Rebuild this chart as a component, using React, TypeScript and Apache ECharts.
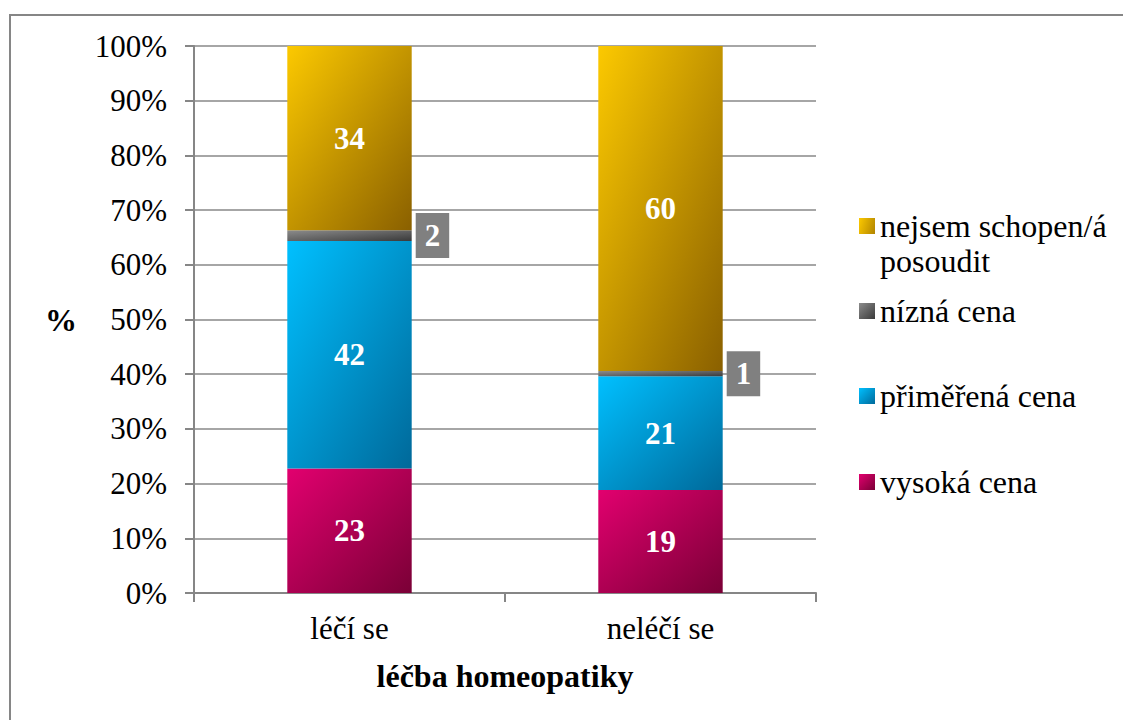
import React, { useEffect, useRef } from "react";
import * as echarts from "echarts";

const categories = ["léčí se", "neléčí se"];
const seriesNames = ["vysoká cena", "přiměřená cena", "nízná cena", "nejsem schopen/á posoudit"];
const vysokaCena = [23, 19];
const primerenaCena = [42, 21];
const niznaCena = [2, 1];
const nejsemSchopen = [34, 60];
const seriesValues = [vysokaCena, primerenaCena, niznaCena, nejsemSchopen];
const xAxisTitle = "léčba homeopatiky";
const yAxisTitle = "%";

const FONT = "Liberation Serif";

const gradients = [
  ["#e2006f", "#7a0036"],
  ["#00c0ff", "#00699a"],
  ["#8c8c8c", "#3a3a3a"],
  ["#fcc900", "#8a6000"],
];

const legendTops = [464.5, 378.5, 293.5, 208.5];

export default function App() {
  const ref = useRef<HTMLDivElement>(null);
  useEffect(() => {
    if (!ref.current) return;
    const chart = echarts.init(ref.current, null, { renderer: "svg" });
    const totals = categories.map((_, i) =>
      seriesValues.reduce((s, arr) => s + arr[i], 0)
    );

    const series = seriesNames.map((name, si) => ({
      name,
      type: "bar",
      stack: "total",
      barWidth: "40%",
      itemStyle: {
        color: new echarts.graphic.LinearGradient(0, 0, 1, 1, [
          { offset: 0, color: gradients[si][0] },
          { offset: 1, color: gradients[si][1] },
        ]),
      },
      label: {
        show: true,
        position: "inside",
        color: "#ffffff",
        fontFamily: FONT,
        fontSize: 31,
        fontWeight: "bold",
        textBorderWidth: 0,
        formatter: (p: any) => String(seriesValues[si][p.dataIndex]),
      },
      data: seriesValues[si].map((v, i) => {
        const item: any = { value: (v / totals[i]) * 100 };
        if (v < 5) {
          item.label = {
            position: "right",
            distance: 4,
            backgroundColor: "#808080",
            padding: [5, 9],
            lineHeight: 35,
          };
        }
        return item;
      }),
    }));

    const legends = seriesNames.map((name, si) => {
      const multi = si === 3;
      return {
        data: [name],
        orient: "vertical",
        left: 859,
        top: legendTops[si],
        padding: 0,
        icon: multi ? "path://M0,0h16v16h-16z M0,51h16" : "rect",
        itemWidth: 16,
        itemHeight: multi ? 51 : 16,
        selectedMode: false,
        formatter: (n: string) =>
          n === "nejsem schopen/á posoudit" ? "nejsem schopen/á\nposoudit" : n,
        textStyle: {
          fontFamily: FONT,
          fontSize: 32,
          color: "#000",
          lineHeight: 35,
        },
      };
    });

    chart.setOption({
      animation: false,
      backgroundColor: "#ffffff",
      grid: { left: 194, right: 307, top: 46, bottom: 127, outerBoundsMode: "none" },
      legend: legends,
      graphic: [
        {
          type: "rect",
          shape: { x: 10, y: 15, width: 1200, height: 800 },
          style: { fill: "none", stroke: "#868686", lineWidth: 2 },
          silent: true,
        },
      ],
      xAxis: {
        type: "category",
        data: categories,
        name: xAxisTitle,
        nameLocation: "middle",
        nameGap: 67,
        nameTextStyle: { fontFamily: FONT, fontSize: 32, fontWeight: "bold", color: "#000" },
        axisLine: { lineStyle: { color: "#868686", width: 2 } },
        axisTick: { show: true, length: 9, lineStyle: { color: "#868686", width: 2 } },
        axisLabel: { fontFamily: FONT, fontSize: 31, color: "#000", margin: 20 },
      },
      yAxis: {
        type: "value",
        min: 0,
        max: 100,
        interval: 10,
        name: yAxisTitle,
        nameLocation: "middle",
        nameRotate: 0,
        nameGap: 117,
        nameTextStyle: { fontFamily: FONT, fontSize: 32, fontWeight: "bold", color: "#000" },
        axisLine: { show: true, lineStyle: { color: "#868686", width: 2 } },
        axisTick: { show: true, length: 9, lineStyle: { color: "#868686", width: 2 } },
        axisLabel: { fontFamily: FONT, fontSize: 31, color: "#000", margin: 27, formatter: "{value}%" },
        splitLine: { show: true, lineStyle: { color: "#a6a6a6", width: 2 } },
      },
      series,
    });
    return () => chart.dispose();
  }, []);
  return (
    <div
      ref={ref}
      style={{ position: "fixed", left: 0, top: 0, width: 1123, height: 720, background: "#fff" }}
    />
  );
}
